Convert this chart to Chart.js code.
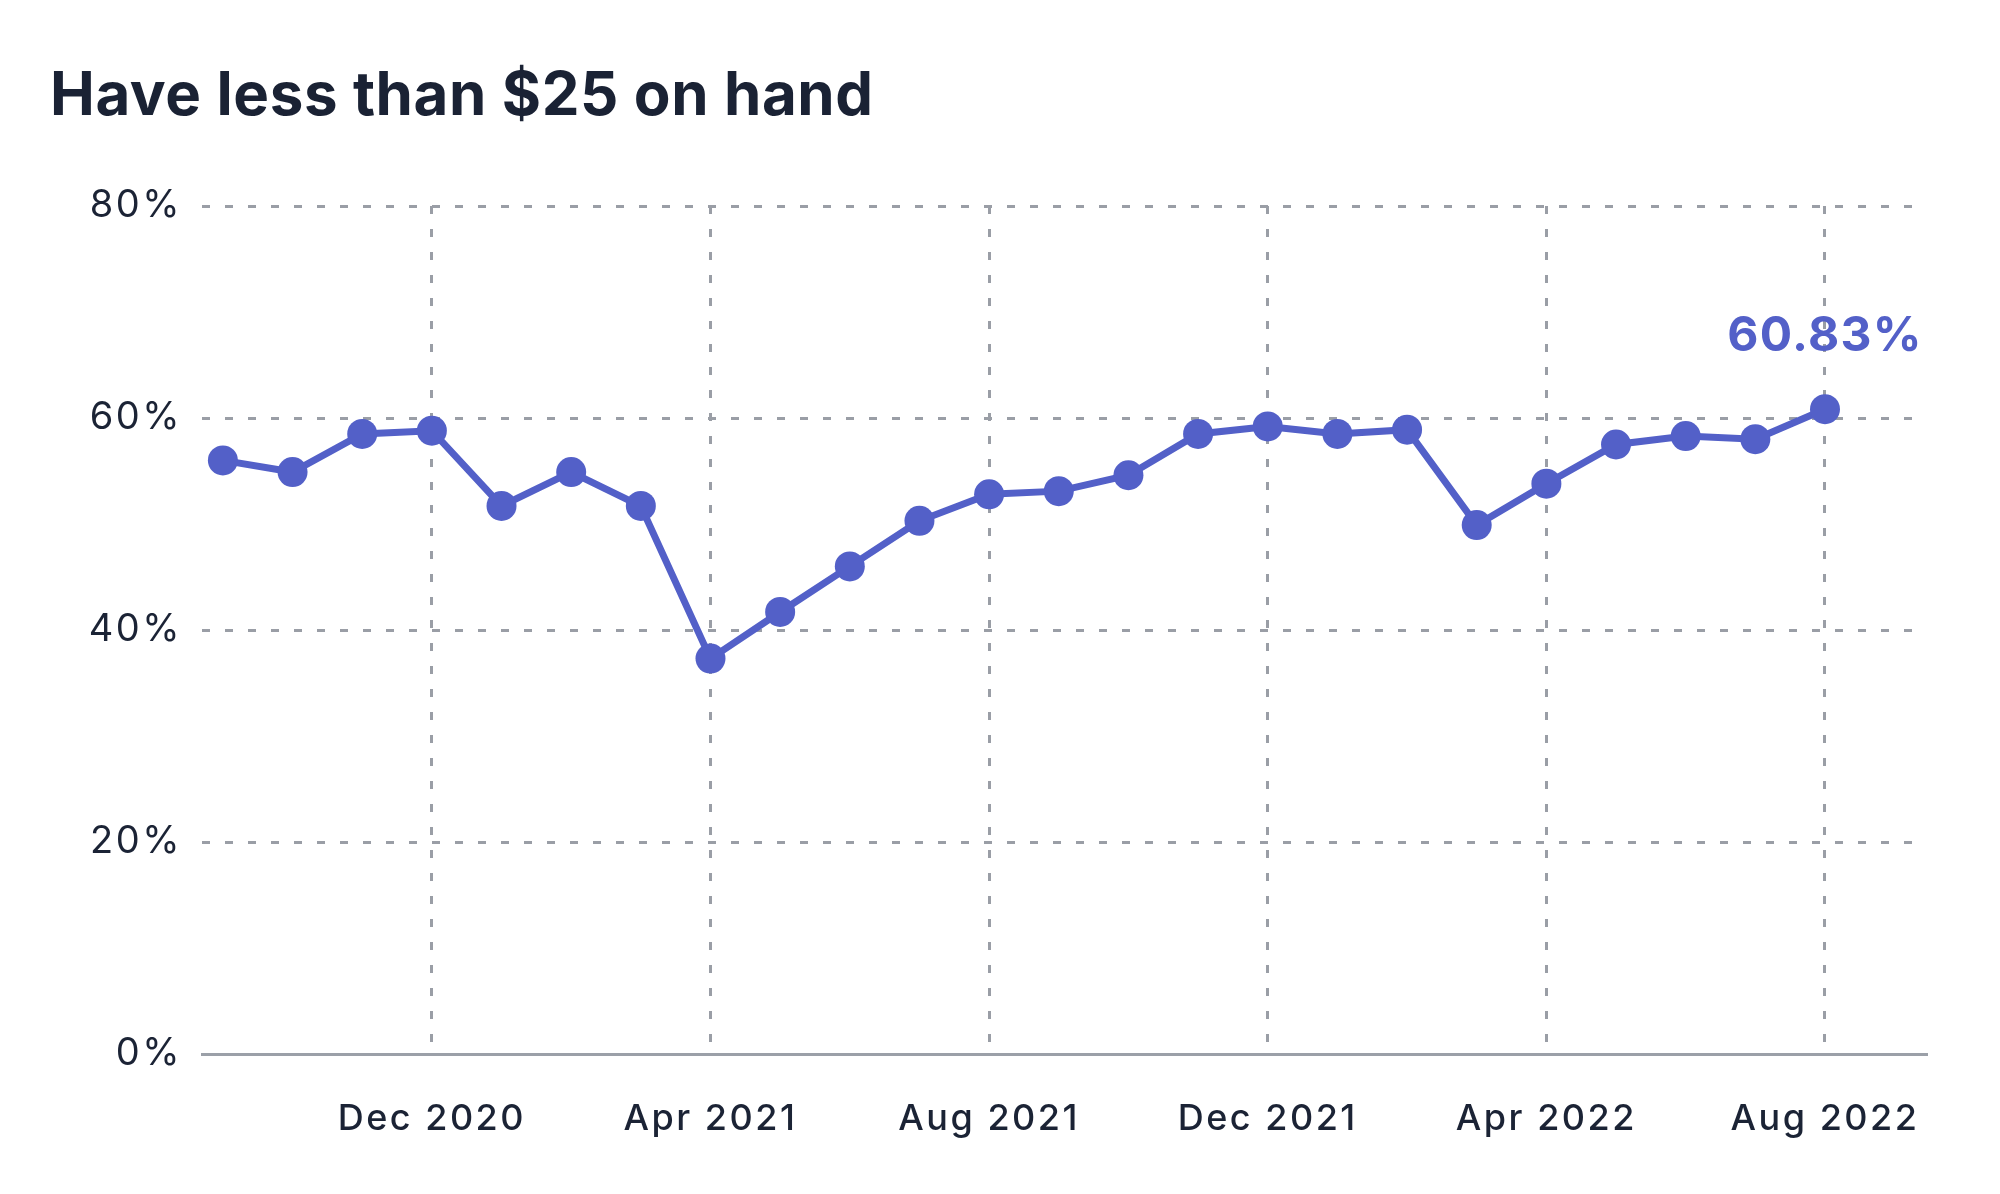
<!DOCTYPE html>
<html>
<head>
<meta charset="utf-8">
<script src="https://cdn.jsdelivr.net/npm/chart.js@4.4.0/dist/chart.umd.min.js"></script>
<style>
  html, body { margin: 0; padding: 0; background: #ffffff; }
  #wrap { position: relative; width: 2000px; height: 1194px; }
  #title {
    position: absolute; left: 50px; top: 63px;
    font-family: Inter, "Noto Sans", sans-serif; font-weight: 700;
    font-size: 60px; line-height: 60px; color: #1a2234; white-space: nowrap;
    letter-spacing: 0.6px;
  }
  canvas { position: absolute; left: 0; top: 0; }
</style>
</head>
<body>
<div id="wrap">
  <canvas id="c" width="2000" height="1194"></canvas>
  <div id="title">Have less than $25 on hand</div>
</div>
<script>
// ---- data ----
const months = ['Sep 2020','Oct 2020','Nov 2020','Dec 2020','Jan 2021','Feb 2021','Mar 2021','Apr 2021',
  'May 2021','Jun 2021','Jul 2021','Aug 2021','Sep 2021','Oct 2021','Nov 2021','Dec 2021',
  'Jan 2022','Feb 2022','Mar 2022','Apr 2022','May 2022','Jun 2022','Jul 2022','Aug 2022'];
const shareLessThan25 = [56.0, 54.9, 58.5, 58.8, 51.7, 54.9, 51.7, 37.3, 41.7, 46.0, 50.3, 52.8,
  53.1, 54.6, 58.5, 59.2, 58.5, 58.9, 49.9, 53.8, 57.5, 58.3, 58.0, 60.83];
const xTickLabels = ['Dec 2020','Apr 2021','Aug 2021','Dec 2021','Apr 2022','Aug 2022'];
const yTickValues = [0, 20, 40, 60, 80];
const lastLabel = '60.83%';

const LINE = '#5360c8';
const GRID = '#9a9ea6';
const TEXT = '#1b2335';

const points = shareLessThan25.map((v, i) => ({ x: i, y: v }));

const spacingPlugin = {
  id: 'spacing',
  beforeDraw(chart) { chart.ctx.letterSpacing = '2.5px'; },
  afterDraw(chart) { chart.ctx.letterSpacing = '0px'; }
};

const lastLabelPlugin = {
  id: 'lastLabel',
  afterDatasetsDraw(chart) {
    const meta = chart.getDatasetMeta(0);
    const el = meta.data[meta.data.length - 1];
    const ctx = chart.ctx;
    ctx.save();
    ctx.letterSpacing = '1.3px';
    ctx.font = '700 48px Inter, "Noto Sans", sans-serif';
    ctx.fillStyle = LINE;
    ctx.textAlign = 'center';
    ctx.textBaseline = 'middle';
    ctx.fillText(lastLabel, el.x, el.y - 73);
    ctx.restore();
  }
};

new Chart(document.getElementById('c'), {
  type: 'line',
  data: {
    datasets: [{
      data: points,
      borderColor: LINE,
      backgroundColor: LINE,
      borderWidth: 7,
      tension: 0,
      pointRadius: 15,
      pointHoverRadius: 15,
      pointBackgroundColor: LINE,
      pointBorderWidth: 0,
      fill: false,
      clip: false
    }]
  },
  options: {
    responsive: false,
    devicePixelRatio: 1,
    animation: false,
    events: [],
    layout: { padding: { top: 206, right: 74, bottom: 0, left: 0 } },
    plugins: { legend: { display: false }, tooltip: { enabled: false }, title: { display: false } },
    scales: {
      x: {
        type: 'linear',
        min: -0.3,
        max: 24.45,
        afterBuildTicks(scale) {
          scale.ticks = xTickLabels.map(l => ({ value: months.indexOf(l) }));
        },
        afterFit(scale) { scale.height = 140; },
        ticks: {
          autoSkip: false,
          maxRotation: 0,
          padding: 44,
          color: TEXT,
          font: { family: 'Inter, "Noto Sans", sans-serif', size: 36, weight: 500 },
          callback: (v) => months[v]
        },
        grid: { color: GRID, lineWidth: 3, drawTicks: false },
        border: { display: true, color: '#9ba0a8', width: 3, dash: [8, 15] }
      },
      y: {
        min: 0,
        max: 80,
        afterBuildTicks(scale) {
          scale.ticks = yTickValues.map(v => ({ value: v }));
        },
        afterFit(scale) { scale.width = 202; },
        ticks: {
          padding: 20,
          color: TEXT,
          font: { family: 'Inter, "Noto Sans", sans-serif', size: 38, weight: 400 },
          callback: (v) => v + '%'
        },
        grid: {
          color: (c) => (c.tick && c.tick.value === 0) ? 'rgba(0,0,0,0)' : GRID,
          lineWidth: 3,
          drawTicks: false
        },
        border: { display: false, dash: [8, 15] }
      }
    }
  },
  plugins: [spacingPlugin, lastLabelPlugin]
});
</script>
</body>
</html>
